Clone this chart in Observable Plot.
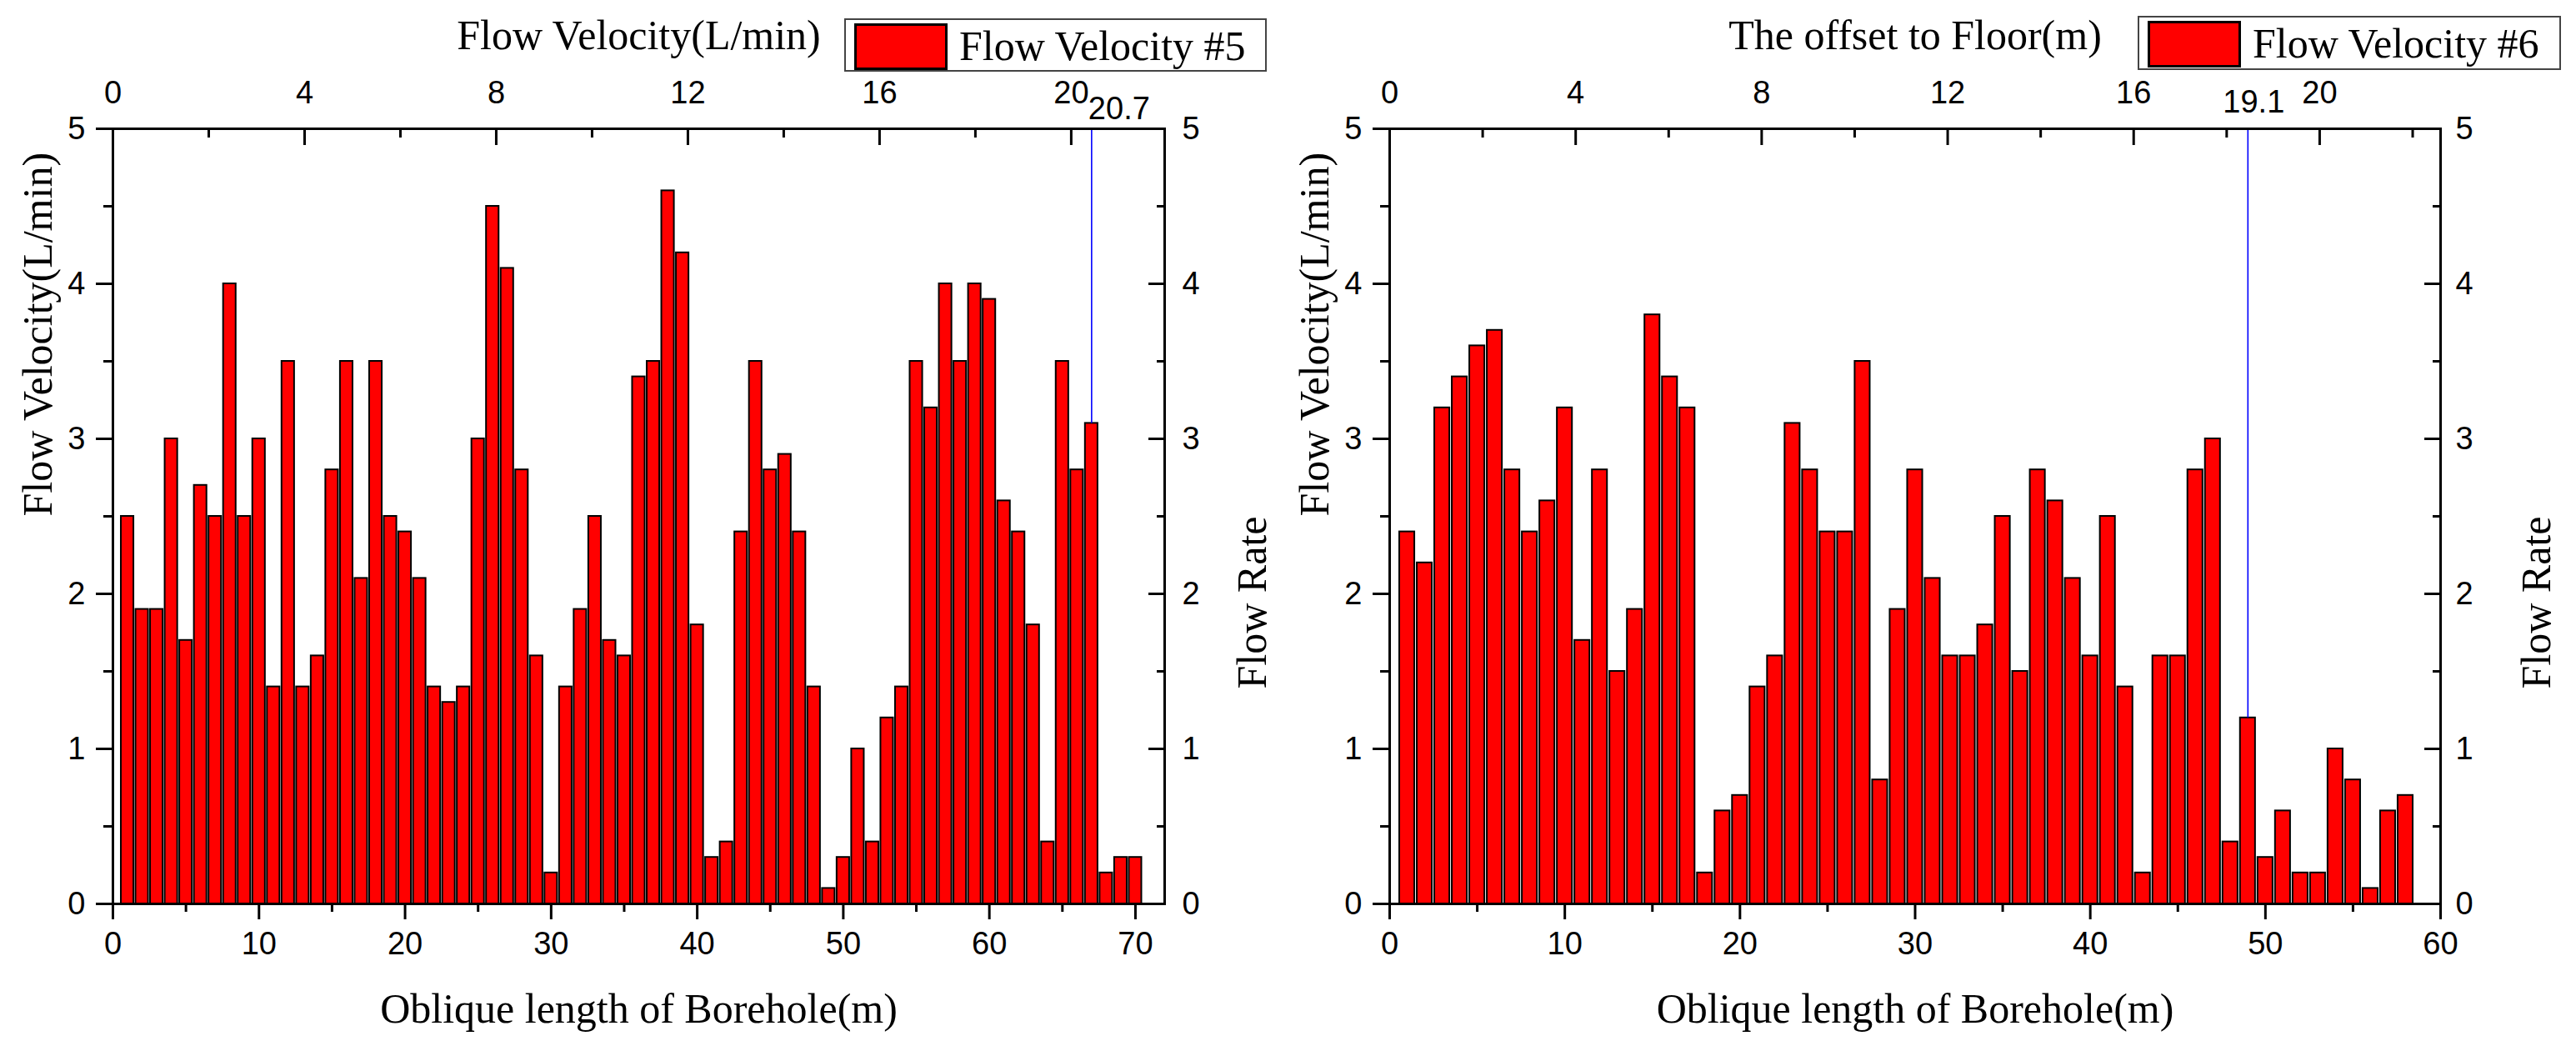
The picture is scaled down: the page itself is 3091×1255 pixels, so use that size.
<!DOCTYPE html>
<html>
<head>
<meta charset="utf-8">
<script src="https://cdn.jsdelivr.net/npm/d3@7"></script>
<script src="https://cdn.jsdelivr.net/npm/@observablehq/plot@0.6"></script>
<style>
  html, body { margin: 0; padding: 0; background: #fff; }
  #fig { position: relative; width: 3091px; height: 1255px; background: #fff; overflow: hidden; }
  .panel { position: absolute; top: 0; }
  .legend { position: absolute; box-sizing: border-box; border: 2px solid #444; background: #fff; }
  .legend .sw { position: absolute; box-sizing: border-box; background: #ff0000; border: 3px solid #000; }
  .legend .lt { position: absolute; font-family: "Liberation Serif", "Times New Roman", serif; font-size: 50px; line-height: 50px; white-space: nowrap; color: #000; }
</style>
</head>
<body>
<div id="fig">
  <div id="p5" class="panel" style="left:0px"></div>
  <div id="p6" class="panel" style="left:1540px"></div>
</div>
<script>
// ---------- data ----------
const length5 = [1,2,3,4,5,6,7,8,9,10,11,12,13,14,15,16,17,18,19,20,21,22,23,24,25,26,27,28,29,30,31,32,33,34,35,36,37,38,39,40,41,42,43,44,45,46,47,48,49,50,51,52,53,54,55,56,57,58,59,60,61,62,63,64,65,66,67,68,69,70];
const velocity5 = [2.5,1.9,1.9,3.0,1.7,2.7,2.5,4.0,2.5,3.0,
                   1.4,3.5,1.4,1.6,2.8,3.5,2.1,3.5,2.5,2.4,
                   2.1,1.4,1.3,1.4,3.0,4.5,4.1,2.8,1.6,0.2,
                   1.4,1.9,2.5,1.7,1.6,3.4,3.5,4.6,4.2,1.8,
                   0.3,0.4,2.4,3.5,2.8,2.9,2.4,1.4,0.1,0.3,
                   1.0,0.4,1.2,1.4,3.5,3.2,4.0,3.5,4.0,3.9,
                   2.6,2.4,1.8,0.4,3.5,2.8,3.1,0.2,0.3,0.3];
const length6 = [1,2,3,4,5,6,7,8,9,10,11,12,13,14,15,16,17,18,19,20,21,22,23,24,25,26,27,28,29,30,31,32,33,34,35,36,37,38,39,40,41,42,43,44,45,46,47,48,49,50,51,52,53,54,55,56,57,58];
const velocity6 = [2.4,2.2,3.2,3.4,3.6,3.7,2.8,2.4,2.6,3.2,
                   1.7,2.8,1.5,1.9,3.8,3.4,3.2,0.2,0.6,0.7,
                   1.4,1.6,3.1,2.8,2.4,2.4,3.5,0.8,1.9,2.8,
                   2.1,1.6,1.6,1.8,2.5,1.5,2.8,2.6,2.1,1.6,
                   2.5,1.4,0.2,1.6,1.6,2.8,3.0,0.4,1.2,0.3,
                   0.6,0.2,0.2,1.0,0.8,0.1,0.6,0.7];

const yDomain = [0, 5];
const yMajor = [0, 1, 2, 3, 4, 5];
const yMinor = [0.5, 1.5, 2.5, 3.5, 4.5];

const xDomain5 = [0, 72];
const xMajor5 = [0, 10, 20, 30, 40, 50, 60, 70];
const xMinor5 = [5, 15, 25, 35, 45, 55, 65];
const topDomain5 = [0, 21.95];
const topMajor5 = [0, 4, 8, 12, 16, 20];
const topMinor5 = [2, 6, 10, 14, 18];
const marker5 = [{x: 67, label: "20.7"}];

const xDomain6 = [0, 60];
const xMajor6 = [0, 10, 20, 30, 40, 50, 60];
const xMinor6 = [5, 15, 25, 35, 45, 55];
const topDomain6 = [0, 22.6];
const topMajor6 = [0, 4, 8, 12, 16, 20];
const topMinor6 = [2, 6, 10, 14, 18, 22];
const marker6 = [{x: 49, label: "19.1"}];

const bottomTitle = "Oblique length of Borehole(m)";
const leftTitle = "Flow Velocity(L/min)";
const rightTitle = "Flow Rate";
const topTitle5 = "Flow Velocity(L/min)";
const topTitle6 = "The offset to Floor(m)";
const legend5 = "Flow Velocity #5";
const legend6 = "Flow Velocity #6";

// ---------- drawing ----------
const SERIF = "'Liberation Serif', 'Times New Roman', serif";
const SANS = "'Liberation Sans', Arial, sans-serif";
const intFmt = d => String(Math.round(d));

function panel(cfg) {
  const data = cfg.lengths.map((x, i) => ({x, v: cfg.values[i]}));
  const k = cfg.xDomain[1] / cfg.topDomain[1];
  const toBottom = t => t * k;
  const markers = cfg.markers.map(m => ({...m, v: cfg.values[cfg.lengths.indexOf(m.x)]}));
  const half = 0.43;
  return Plot.plot({
    width: cfg.width,
    height: 1255,
    marginTop: 154,
    marginBottom: 171,
    marginLeft: cfg.marginLeft,
    marginRight: cfg.marginRight,
    x: {domain: cfg.xDomain},
    y: {domain: yDomain},
    style: {fontFamily: SANS, fontSize: "38px", color: "#000", background: "#fff", overflow: "visible"},
    marks: [
      Plot.rectY(data, {x1: d => d.x - half, x2: d => d.x + half, y: "v", fill: "#ff0000", stroke: "#000", strokeWidth: 2}),
      Plot.ruleX(markers, {x: "x", y1: "v", y2: () => yDomain[1], stroke: "#0000ff", strokeWidth: 1.6}),
      Plot.text(markers, {x: "x", y: () => yDomain[1], text: "label", textAnchor: "start", lineAnchor: "bottom", dx: cfg.markerDx, dy: cfg.markerDy, fontSize: 38}),
      // bottom axis
      Plot.axisX(cfg.xMajor, {anchor: "bottom", tickSize: 19, tickPadding: 15, strokeWidth: 3, label: null, tickFormat: intFmt}),
      Plot.axisX(cfg.xMinor, {anchor: "bottom", tickSize: 10, strokeWidth: 3, fill: "none", label: null}),
      // top axis (secondary scale), ticks inward
      Plot.axisX(cfg.topMajor.map(toBottom), {anchor: "top", tickSize: 19, dy: 19, strokeWidth: 3, fill: "none", label: null}),
      Plot.axisX(cfg.topMinor.map(toBottom), {anchor: "top", tickSize: 10, dy: 10, strokeWidth: 3, fill: "none", label: null}),
      Plot.axisX(cfg.topMajor.map(toBottom), {anchor: "top", tickSize: 0, tickPadding: 31, label: null, tickFormat: d => String(Math.round(d / k))}),
      // left axis
      Plot.axisY(yMajor, {anchor: "left", tickSize: 20, tickPadding: 13, strokeWidth: 3, label: null, tickFormat: intFmt}),
      Plot.axisY(yMinor, {anchor: "left", tickSize: 11, strokeWidth: 3, fill: "none", label: null}),
      // right axis, ticks inward
      Plot.axisY(yMajor, {anchor: "right", tickSize: 20, dx: -20, strokeWidth: 3, fill: "none", label: null}),
      Plot.axisY(yMinor, {anchor: "right", tickSize: 10, dx: -10, strokeWidth: 3, fill: "none", label: null}),
      Plot.axisY(yMajor, {anchor: "right", tickSize: 0, tickPadding: cfg.rightPad, label: null, tickFormat: intFmt}),
      Plot.frame({stroke: "#000", strokeWidth: 3}),
      // titles
      Plot.text([bottomTitle], {frameAnchor: "bottom", text: d => d, lineAnchor: "bottom", dy: 142, fontFamily: SERIF, fontSize: 50}),
      Plot.text([cfg.topTitle], {frameAnchor: "top", text: d => d, lineAnchor: "bottom", dy: -96, fontFamily: SERIF, fontSize: 50}),
      Plot.text([leftTitle], {frameAnchor: "left", text: d => d, rotate: -90, dx: -90, fontFamily: SERIF, fontSize: 50}),
      Plot.text([rightTitle], {frameAnchor: "right", text: d => d, rotate: -90, dx: cfg.rightTitleDx, fontFamily: SERIF, fontSize: 50})
    ]
  });
}

document.getElementById("p5").appendChild(panel({
  lengths: length5, values: velocity5, width: 1540, marginLeft: 135, marginRight: 143,
  xDomain: xDomain5, xMajor: xMajor5, xMinor: xMinor5,
  topDomain: topDomain5, topMajor: topMajor5, topMinor: topMinor5,
  markers: marker5, markerDx: -4, markerDy: -12, rightPad: 21, rightTitleDx: 105,
  topTitle: topTitle5
}));
document.getElementById("p6").appendChild(panel({
  lengths: length6, values: velocity6, width: 1551, marginLeft: 127, marginRight: 163,
  xDomain: xDomain6, xMajor: xMajor6, xMinor: xMinor6,
  topDomain: topDomain6, topMajor: topMajor6, topMinor: topMinor6,
  markers: marker6, markerDx: -30, markerDy: -20, rightPad: 18, rightTitleDx: 115,
  topTitle: topTitle6
}));

// legends
function addLegend(label, box) {
  const d = document.createElement("div");
  d.className = "legend";
  Object.assign(d.style, {left: box.left + "px", top: box.top + "px", width: box.w + "px", height: box.h + "px"});
  const sw = document.createElement("div");
  sw.className = "sw";
  Object.assign(sw.style, {left: "10px", top: "4px", width: "112px", height: "56px"});
  const t = document.createElement("div");
  t.className = "lt";
  t.textContent = label;
  Object.assign(t.style, {left: "136px", top: "6px"});
  d.appendChild(sw); d.appendChild(t);
  document.getElementById("fig").appendChild(d);
}
addLegend(legend5, {left: 1013, top: 22, w: 507, h: 64});
addLegend(legend6, {left: 2565, top: 19, w: 508, h: 65});
</script>
</body>
</html>
